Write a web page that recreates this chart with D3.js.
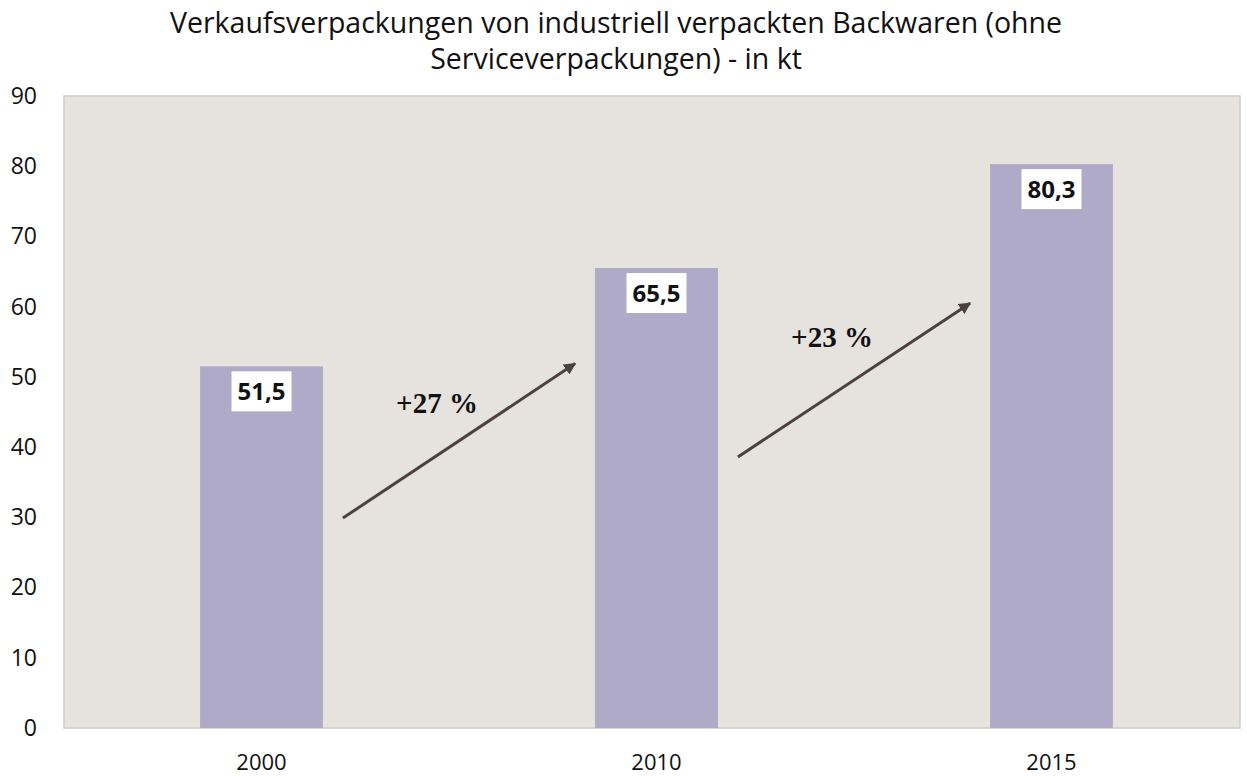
<!DOCTYPE html>
<html>
<head>
<meta charset="utf-8">
<script src="https://cdn.jsdelivr.net/npm/d3@7"></script>
<style>
  body { margin: 0; background: #fff; }
  svg { display: block; }
</style>
</head>
<body>
<svg id="chart" width="1247" height="776"></svg>
<script>
const years = ['2000', '2010', '2015']
const values = [51.5, 65.5, 80.3]
const valueLabels = ['51,5', '65,5', '80,3']
const yTicks = [0, 10, 20, 30, 40, 50, 60, 70, 80, 90]
// growth arrows: from/to index pair, start and end value on the y axis
const growth = [
    { from: 0, to: 1, y0: 29.9, y1: 51.9, label: '+27 %', ly: 44.8 },
    { from: 1, to: 2, y0: 38.6, y1: 60.5, label: '+23 %', ly: 54.3 }
]
const titleLines = [
    'Verkaufsverpackungen von industriell verpackten Backwaren (ohne',
    'Serviceverpackungen) - in kt'
]

const svg = d3.select('#chart')
const plotLeft = 64, plotRight = 1240, plotTop = 96, plotBottom = 728

const x = d3.scaleBand()
    .domain(years)
    .range([64, 1249])
    .paddingInner(0.689)
    .paddingOuter(0.3445)

const y = d3.scaleLinear()
    .domain([0, 90])
    .range([plotBottom, plotTop])

// plot background
svg.append('rect')
    .attr('x', plotLeft)
    .attr('y', plotTop)
    .attr('width', plotRight - plotLeft)
    .attr('height', plotBottom - plotTop)
    .attr('fill', '#e6e3de')
    .attr('stroke', '#cfcdca')
    .attr('stroke-width', 1.5)

// title
svg.append('g')
  .selectAll('text')
  .data(titleLines)
  .join('text')
    .attr('x', 616)
    .attr('y', (d, i) => 33 + i * 36)
    .attr('text-anchor', 'middle')
    .attr('font-family', 'Open Sans')
    .attr('font-size', 28.5)
    .attr('fill', '#111')
    .text(d => d)

// y axis
const yAxis = svg.append('g')
    .attr('transform', `translate(${plotLeft},0)`)
    .call(d3.axisLeft(y).tickValues(yTicks).tickSize(0).tickPadding(27))
yAxis.select('.domain').remove()
yAxis.selectAll('text')
    .attr('font-family', 'Open Sans')
    .attr('font-size', 23)
    .attr('fill', '#111')

// x axis
const xAxis = svg.append('g')
    .attr('transform', `translate(0,${plotBottom})`)
    .call(d3.axisBottom(x).tickSize(0).tickPadding(26))
xAxis.select('.domain').remove()
xAxis.selectAll('text')
    .attr('font-family', 'Open Sans')
    .attr('font-size', 22)
    .attr('fill', '#111')

// bars
svg.append('g')
  .selectAll('rect')
  .data(values)
  .join('rect')
    .attr('x', (d, i) => x(years[i]))
    .attr('y', d => y(d))
    .attr('width', x.bandwidth())
    .attr('height', d => y(0) - y(d))
    .attr('fill', '#aeaac8')

// value labels in white boxes
const lab = svg.append('g')
  .selectAll('g')
  .data(values)
  .join('g')
    .attr('transform', (d, i) => `translate(${x(years[i]) + x.bandwidth() / 2},${y(d) + 5})`)
lab.append('rect')
    .attr('x', -30)
    .attr('y', 0)
    .attr('width', 60)
    .attr('height', 40)
    .attr('fill', '#fff')
lab.append('text')
    .attr('y', 29)
    .attr('text-anchor', 'middle')
    .attr('font-family', 'Open Sans')
    .attr('font-weight', 'bold')
    .attr('font-size', 24)
    .attr('fill', '#111')
    .text((d, i) => valueLabels[i])

// arrows
svg.append('defs').append('marker')
    .attr('id', 'head')
    .attr('viewBox', '0 0 10 10')
    .attr('refX', 9)
    .attr('refY', 5)
    .attr('markerWidth', 4)
    .attr('markerHeight', 4)
    .attr('orient', 'auto')
  .append('path')
    .attr('d', 'M0,0 L10,5 L0,10 z')
    .attr('fill', '#4d423b')

svg.append('g')
  .selectAll('line')
  .data(growth)
  .join('line')
    .attr('x1', d => x(years[d.from]) + x.bandwidth() + 20)
    .attr('y1', d => y(d.y0))
    .attr('x2', d => x(years[d.to]) - 20)
    .attr('y2', d => y(d.y1))
    .attr('stroke', '#4d423b')
    .attr('stroke-width', 3)
    .attr('marker-end', 'url(#head)')

svg.append('g')
  .selectAll('text')
  .data(growth)
  .join('text')
    .attr('x', d => (x(years[d.from]) + x.bandwidth() + x(years[d.to])) / 2 - 22)
    .attr('y', d => y(d.ly))
    .attr('text-anchor', 'middle')
    .attr('font-family', 'Liberation Serif')
    .attr('font-weight', 'bold')
    .attr('font-size', 29)
    .attr('fill', '#111')
    .text(d => d.label)
</script>
</body>
</html>
